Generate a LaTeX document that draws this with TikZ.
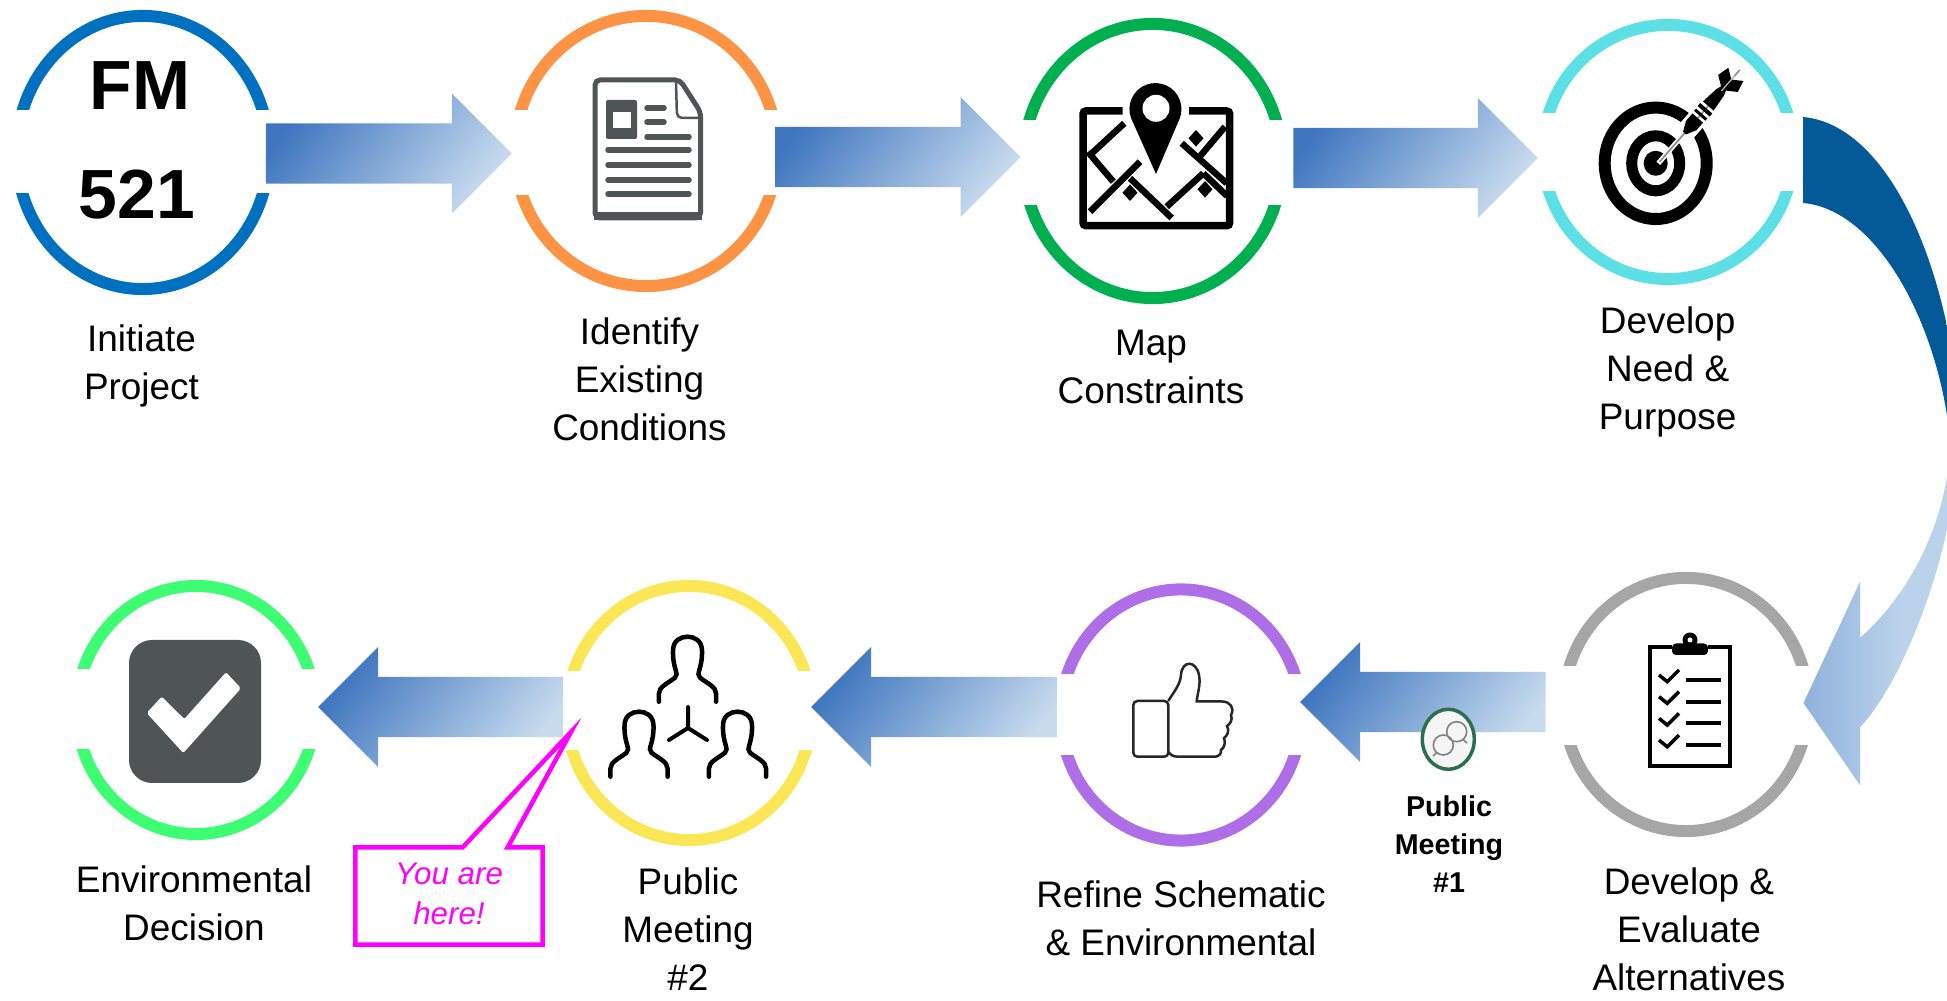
\documentclass[tikz,border=0pt]{standalone}
\usepackage{fontspec}
\setmainfont{Liberation Sans}
\usetikzlibrary{calc,shapes.geometric,shapes.callouts}
\definecolor{ringblue}{HTML}{0070C0}
\definecolor{ringorange}{HTML}{FD9445}
\definecolor{ringgreen}{HTML}{00B050}
\definecolor{ringcyan}{HTML}{5CE0E6}
\definecolor{ringgrey}{HTML}{A6A6A6}
\definecolor{ringpurple}{HTML}{AE6EE8}
\definecolor{ringyellow}{HTML}{FBE655}
\definecolor{ringlime}{HTML}{3DFD72}
\definecolor{arrowdark}{HTML}{3F76BF}
\definecolor{arrowlight}{HTML}{C8DBEE}
\definecolor{curvedark}{HTML}{045A98}
\definecolor{curvelight}{HTML}{BAD3EA}
\definecolor{curvehead}{HTML}{8FB0DC}
\definecolor{icongrey}{HTML}{4F5555}
\definecolor{meetgreen}{HTML}{2D6E50}
\definecolor{hereink}{HTML}{FF00FF}
\tikzset{
  ring/.style n args={3}{ellipse,draw=#1,line width=0.12cm,inner sep=0pt,
    minimum width=#2,minimum height=#3},
  stagelabel/.style={align=center,inner sep=0pt,anchor=north,
    font=\fontsize{10.5}{13.65}\selectfont},
  meetinglabel/.style={align=center,inner sep=0pt,anchor=north,
    font=\fontsize{8.15}{10.8}\selectfont\bfseries},
  bignum/.style={inner sep=0pt,anchor=base,font=\fontsize{19.8}{24}\selectfont\bfseries},
  fatarrow/.style={top color=arrowdark,bottom color=arrowlight,shading angle=52},
  herebox/.style={rectangle callout,draw=hereink,fill=white,line width=0.045cm,
    minimum width=1.87cm,minimum height=0.97cm,inner sep=0pt,align=center,
    callout pointer width=0.45cm,text=hereink,
    font=\fontsize{8.9}{11.4}\selectfont\itshape},
  person/.pic={
    \draw[line width=0.045cm,line cap=round]
      (-28.6,65) -- (-28.6,57) .. controls (-28.6,50) and (-20,47) .. (-12.5,41)
      .. controls (-8,37) and (-15,32) .. (-14.5,14) .. controls (-14.5,4) and (-7,0) .. (0,0)
      .. controls (7,0) and (14.5,4) .. (14.5,14) .. controls (15,32) and (8,37) .. (12.5,41)
      .. controls (20,47) and (28.6,50) .. (28.6,57) -- (28.6,65);
  }
}
\newcommand{\fatarrow}[3]{\shade[fatarrow] let \p1=#1, \p2=#2 in
  (\x1,\y2+0.3cm) -- ({\x2-(#3)},\y2+0.3cm) -- ({\x2-(#3)},\y2+0.6cm) -- (\x2,\y2)
  -- ({\x2-(#3)},\y2-0.6cm) -- ({\x2-(#3)},\y2-0.3cm) -- (\x1,\y2-0.3cm) -- cycle;}
\begin{document}
\begin{tikzpicture}[x=0.01cm,y=-0.01cm]
  \useasboundingbox (0,0) rectangle (1947,1001);
  % rings
  \node[ring={ringblue}{2.52cm}{2.73cm}] (initiate) at (142.7,152.5) {};
  \node[ring={ringorange}{2.62cm}{2.70cm}] (identify) at (646,151) {};
  \node[ring={ringgreen}{2.58cm}{2.74cm}] (constraints) at (1152.7,161) {};
  \node[ring={ringcyan}{2.50cm}{2.54cm}] (need) at (1668,152) {};
  \node[ring={ringgrey}{2.44cm}{2.53cm}] (evaluate) at (1686,704.5) {};
  \node[ring={ringpurple}{2.40cm}{2.51cm}] (refine) at (1181,715) {};
  \node[ring={ringyellow}{2.44cm}{2.54cm}] (meeting) at (689,713) {};
  \node[ring={ringlime}{2.38cm}{2.48cm}] (decision) at (196,710) {};
  % gaps in the rings
  \fill[white] (0,110) rectangle (285,193);
  \fill[white] (500,110.5) rectangle (790,195.5);
  \fill[white] (1010,120) rectangle (1295,205);
  \fill[white] (1525,113) rectangle (1810,191);
  \fill[white] (1545,666) rectangle (1825,745);
  \fill[white] (1045,674) rectangle (1315,755);
  \fill[white] (550,671) rectangle (825,750);
  \fill[white] (60,669) rectangle (330,749);
  % straight arrows
  \fatarrow{($(initiate.east)+(-9,0)$)}{($(identify.west)+(3,2.5)$)}{0.6cm}
  \fatarrow{($(identify.east)+(-8,0)$)}{($(constraints.west)+(3,-4)$)}{0.6cm}
  \fatarrow{($(constraints.east)+(5.5,0)$)}{($(need.west)+(1,6)$)}{0.6cm}
  \fatarrow{($(evaluate.west)+(-12.4,0)$)}{($(refine.east)+(-7,-13)$)}{-0.6cm}
  \fatarrow{($(refine.west)+(2,0)$)}{($(meeting.east)+(-6,-6)$)}{-0.6cm}
  \fatarrow{($(meeting.west)+(2,0)$)}{($(decision.east)+(-3,-3)$)}{-0.6cm}
  % curved arrow
  \coordinate (curvetop) at ($(need.east)+(4,-35)$);
  \coordinate (curvebot) at ($(need.east)+(4,51)$);
  \coordinate (curvetip) at ($(evaluate.east)+(-10.5,-1.5)$);
  \begin{scope}
    \clip (curvetop) .. controls (1890,125) and (1950,270) .. (1960,420)
      .. controls (1960,540) and (1905,680) .. (1860,727)
      -- (1860,785) -- (curvetip) -- (1860,582) -- (1860,638)
      .. controls (1915,590) and (1950,510) .. (1950,440)
      .. controls (1940,330) and (1880,210) .. (curvebot) -- cycle;
    \fill[curvedark] (1790,100) rectangle (1970,440);
    \fill[curvelight] (1790,440) rectangle (1970,800);
    \shade[left color=curvehead,right color=curvelight] (1800,560) rectangle (1900,800);
  \end{scope}
  % 521 badge
  \node[bignum] (coursename) at (140,110) {FM};
  \node[bignum] (coursenum) at (137,219) {521};
  % document
  \draw[icongrey,line width=0.05cm,rounded corners=0.05cm]
    (595,80) -- (680,80) -- (700.5,112) -- (700.5,218) -- (595,218) -- cycle;
  \fill[icongrey] (594,212) rectangle (702,220.5);
  \draw[icongrey,line width=0.025cm,rounded corners=0.05cm]
    (676,82) -- (677,118) -- (701,118);
  \fill[icongrey,rounded corners=0.02cm] (606,100) rectangle (637,139);
  \fill[white] (612.5,112) rectangle (631,128);
  \draw[icongrey,line width=0.055cm,line cap=round]
    (647,108) -- (664,108) (647,122) -- (664,122) (647,137) -- (689,137)
    (608,150) -- (689,150) (608,165) -- (689,165) (608,180) -- (689,180) (608,194) -- (689,194);
  % map
  \draw[line width=0.075cm,rounded corners=0.03cm]
    (1122.7,111) -- (1083,111) -- (1083,225.7) -- (1229.7,225.7) -- (1229.7,111) -- (1189,111);
  \draw[line width=0.065cm]
    (1124.3,123.3) -- (1090,155) (1088,152) -- (1113.3,181.7)
    (1140,161.7) -- (1090,211.7) (1130,178.3) -- (1171.7,218)
    (1181.7,143.3) -- (1226.7,183.3) (1225,126.7) -- (1198.3,158.3)
    (1203.3,173.3) -- (1166.7,206.7) (1203.3,173.3) -- (1227,196);
  \fill (1196,130) -- (1203.5,138.3) -- (1196,146.6) -- (1188.5,138.3) -- cycle;
  \fill (1130,184.4) -- (1137.5,192.7) -- (1130,201) -- (1122.5,192.7) -- cycle;
  \fill (1205,181) -- (1212.5,189.3) -- (1205,197.6) -- (1197.5,189.3) -- cycle;
  \fill (1156,174) -- (1131,118) arc[start angle=200,end angle=-20,radius=0.26cm] -- cycle;
  \fill[white] (1156,108.3) circle (0.135cm);
  % target
  \draw[line width=0.12cm] (1655.7,163.3) ellipse [x radius=0.51cm,y radius=0.557cm];
  \draw[line width=0.11cm] (1655.7,163.3) ellipse [x radius=0.24cm,y radius=0.275cm];
  \fill (1655.7,163.3) ellipse [x radius=0.12cm,y radius=0.125cm];
  \begin{scope}[shift={(1658.3,163.3)},rotate=48.9]
    \draw[white,line width=0.05cm] (0,0) -- (35,0);
    \draw[white,line width=0.2cm] (32,0) -- (74,0);
    \draw[black!45,line width=0.016cm] (2,0) -- (124,0);
    \fill (40,-2) -- (50,-7) -- (60,-7) -- (60,7) -- (50,7) -- (40,2) -- cycle;
    \fill (63,-7.5) rectangle (66,7.5);
    \fill (69,-8) rectangle (73,8);
    \fill (76,-7) -- (94,-5) -- (100,-3) -- (100,3) -- (94,5) -- (76,7) -- cycle;
    \fill (97,0) -- (106,-13) -- (118,-10) -- (111,0) -- (118,10) -- (106,13) -- cycle;
    \draw[white!75!black,line width=0.012cm] (96,0) -- (116,0);
  \end{scope}
  % clipboard
  \draw[line width=0.045cm] (1672,647) -- (1650,647) -- (1650,766) -- (1730,766) -- (1730,647) -- (1708,647);
  \fill[rounded corners=0.04cm] (1672,643.5) rectangle (1708,655);
  \fill (1690,640) circle (0.075cm);
  \fill[white] (1690,640) circle (0.025cm);
  \draw[line width=0.035cm]
    (1659,675) -- (1667.3,681.7) -- (1679,670)
    (1659,696.7) -- (1667.3,703.4) -- (1679,691.7)
    (1659,718.4) -- (1667.3,725.1) -- (1679,713.4)
    (1659,740.1) -- (1667.3,746.8) -- (1679,735.1);
  \draw[line width=0.04cm]
    (1686,680) -- (1721,680) (1686,701.7) -- (1721,701.7)
    (1686,722.7) -- (1721,722.7) (1686,745) -- (1721,745);
  % small meeting badge
  \node[ellipse,draw=meetgreen,fill=black!4,line width=0.035cm,inner sep=0pt,
    minimum width=0.52cm,minimum height=0.6cm] (publicone) at (1448.3,739.3) {};
  \draw[black!50,line width=0.016cm]
    (1443.3,745) circle (0.1cm) (1437,752.5) -- (1433,756)
    (1456.7,731.7) circle (0.1cm) (1463,739.5) -- (1467,743);
  % thumb
  \draw[black!85,line width=0.025cm,rounded corners=0.04cm]
    (1133.3,701) rectangle (1168.3,756.7);
  \draw[black!85,line width=0.025cm]
    (1168.3,701) .. controls (1175,690) and (1180,685) .. (1181,675)
    .. controls (1182,660) and (1196,660) .. (1199,675)
    .. controls (1201,685) and (1197,695) .. (1196.7,701.5) -- (1222,701.5)
    .. controls (1230,701.5) and (1235,708) .. (1231,715)
    .. controls (1233,720) and (1230,724) .. (1227,726)
    .. controls (1230,731) and (1227,736) .. (1224,738)
    .. controls (1226,743) and (1224,748) .. (1221,750)
    .. controls (1222,754) and (1218,756.7) .. (1215,756.7) -- (1178,756.7)
    .. controls (1172,756.7) and (1170,754) .. (1168.3,752);
  % people
  \pic at (687.5,636.7) {person};
  \pic at (639,711.7) {person};
  \pic at (737.5,711.7) {person};
  \draw[line width=0.04cm,line cap=round]
    (688,728) -- (688,707) (688,728) -- (669,740) (688,728) -- (707,740);
  % check box
  \fill[icongrey,rounded corners=0.23cm] (129,640) rectangle (261,783);
  \fill[white,rounded corners=0.02cm]
    (146.7,713) -- (161.7,696.7) -- (184.3,719) -- (226,672.3) -- (241,688.3) -- (183.3,753) -- cycle;
  % labels
  \node[stagelabel] (initiatelabel) at (141.5,324) {Initiate\\Project};
  \node[stagelabel] (identifylabel) at (639.5,317) {Identify\\Existing\\Conditions};
  \node[stagelabel] (maplabel) at (1151,329) {Map\\Constraints};
  \node[stagelabel] (needlabel) at (1667.6,306) {Develop\\Need \&\\Purpose};
  \node[stagelabel] (decisionlabel) at (194,865) {Environmental\\Decision};
  \node[stagelabel] (meetinglabel) at (688,867) {Public\\Meeting\\\#2};
  \node[stagelabel] (refinelabel) at (1181,880) {Refine Schematic\\\& Environmental};
  \node[stagelabel] (evaluatelabel) at (1689,867) {Develop \&\\Evaluate\\Alternatives};
  \node[meetinglabel] (publiconelabel) at (1449,795) {Public\\Meeting\\\#1};
  % callout
  \node[herebox,callout absolute pointer={(571,732)}] (here) at (449,896)
    {\raisebox{1.1pt}{You are}\\\raisebox{1.1pt}{here!}};
\end{tikzpicture}
\end{document}
